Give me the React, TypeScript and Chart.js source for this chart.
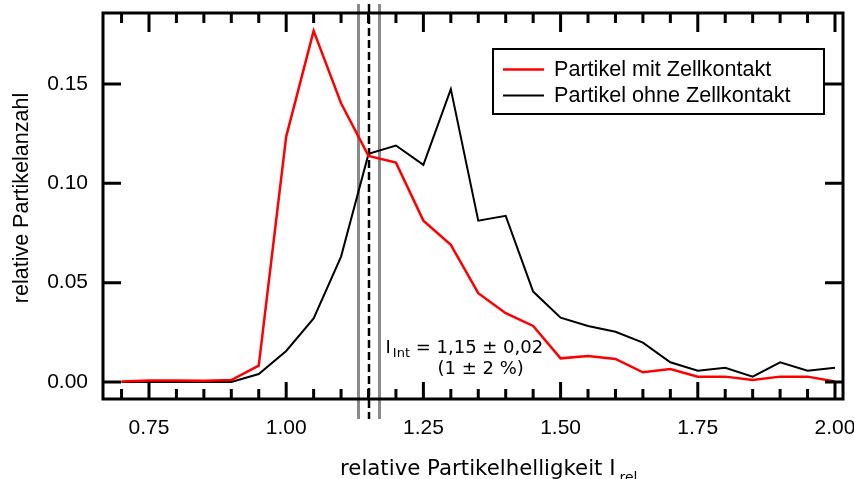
import React, { useEffect, useRef } from "react";
import { Chart, registerables } from "chart.js";

Chart.register(...registerables);

const xValues = [0.70, 0.75, 0.80, 0.85, 0.90, 0.95, 1.00, 1.05, 1.10, 1.15, 1.20, 1.25, 1.30, 1.35, 1.40, 1.45, 1.50, 1.55, 1.60, 1.65, 1.70, 1.75, 1.80, 1.85, 1.90, 1.95, 2.00];
const mitZellkontakt = [0.0003, 0.0008, 0.0008, 0.0006, 0.001, 0.0082, 0.1235, 0.1767, 0.1403, 0.1138, 0.1104, 0.0812, 0.069, 0.0447, 0.0346, 0.0282, 0.0119, 0.0131, 0.0116, 0.0049, 0.0065, 0.0027, 0.0027, 0.001, 0.0027, 0.0027, 0.0002];
const ohneZellkontakt = [0, 0, 0, 0, 0, 0.004, 0.0156, 0.032, 0.0631, 0.1148, 0.119, 0.1093, 0.1474, 0.0812, 0.0836, 0.0455, 0.0324, 0.0282, 0.0253, 0.0198, 0.0099, 0.0057, 0.0072, 0.0027, 0.0099, 0.0057, 0.0072];
const seriesLabels = ["Partikel mit Zellkontakt", "Partikel ohne Zellkontakt"];

const xTickValues = [0.75, 1.0, 1.25, 1.5, 1.75, 2.0];
const xTickLabels = ["0.75", "1.00", "1.25", "1.50", "1.75", "2.00"];
const yTickValues = [0.0, 0.05, 0.10, 0.15];
const yTickLabels = ["0.00", "0.05", "0.10", "0.15"];

const intensityMean = 1.15;
const intensityLow = 1.13;
const intensityHigh = 1.17;

const xMin = 0.6662;
const xMax = 2.0146;
const yMin = -0.00856;
const yMax = 0.1857;

const SANS = "'Liberation Sans', Arial, sans-serif";
const DEJAVU = "'DejaVu Sans', sans-serif";

const near = (a: number, b: number) => Math.abs(a - b) < 1e-6;

const zeroPad = (s: any) => {
  s.paddingTop = 0;
  s.paddingBottom = 0;
  s.paddingLeft = 0;
  s.paddingRight = 0;
};

const decorPlugin = {
  id: "decor",
  beforeDatasetsDraw(chart: any) {
    const ctx = chart.ctx;
    const xs = chart.scales.x;
    ctx.save();
    ctx.lineCap = "butt";
    ctx.strokeStyle = "#8a8a8a";
    ctx.lineWidth = 3;
    [intensityLow, intensityHigh].forEach((v) => {
      const px = Math.round(xs.getPixelForValue(v)) + 0.5;
      ctx.beginPath();
      ctx.moveTo(px, 4);
      ctx.lineTo(px, 419);
      ctx.stroke();
    });
    const pm = Math.round(xs.getPixelForValue(intensityMean));
    ctx.strokeStyle = "#000";
    ctx.lineWidth = 2.5;
    ctx.setLineDash([8, 4]);
    ctx.beginPath();
    ctx.moveTo(pm, 4);
    ctx.lineTo(pm, 419);
    ctx.stroke();
    ctx.restore();
  },
  afterDraw(chart: any) {
    const ctx = chart.ctx;
    const { left, right, top, bottom } = chart.chartArea;
    const xs = chart.scales.x;
    const ys = chart.scales.y;
    ctx.save();
    ctx.strokeStyle = "#000";
    ctx.lineWidth = 3;
    ctx.lineCap = "butt";
    ctx.setLineDash([]);
    // frame
    ctx.strokeRect(left, top, right - left, bottom - top);
    // x ticks (top & bottom, inward)
    xs.ticks.forEach((t: any) => {
      const px = xs.getPixelForValue(t.value);
      const major = xTickValues.some((v) => near(v, t.value));
      const lenB = major ? 17 : 10;
      const lenT = major ? 19 : 10;
      ctx.beginPath();
      ctx.moveTo(px, bottom);
      ctx.lineTo(px, bottom - lenB);
      ctx.moveTo(px, top);
      ctx.lineTo(px, top + lenT);
      ctx.stroke();
    });
    // y ticks (left & right, inward)
    yTickValues.forEach((v) => {
      const py = ys.getPixelForValue(v);
      ctx.beginPath();
      ctx.moveTo(left, py);
      ctx.lineTo(left + 18, py);
      ctx.moveTo(right, py);
      ctx.lineTo(right - 18, py);
      ctx.stroke();
    });

    // legend
    const lx = 493, ly = 49, lw = 331, lh = 65;
    ctx.fillStyle = "#fff";
    ctx.fillRect(lx, ly, lw, lh);
    ctx.lineWidth = 2;
    ctx.strokeStyle = "#000";
    ctx.strokeRect(lx, ly, lw, lh);
    const rows = [69.5, 95.5];
    chart.data.datasets.forEach((ds: any, i: number) => {
      ctx.strokeStyle = ds.borderColor;
      ctx.lineWidth = ds.borderWidth;
      ctx.beginPath();
      ctx.moveTo(503, rows[i]);
      ctx.lineTo(544, rows[i]);
      ctx.stroke();
      ctx.fillStyle = "#000";
      ctx.font = `21.6px ${SANS}`;
      ctx.textBaseline = "middle";
      ctx.textAlign = "left";
      ctx.fillText(ds.label, 554, rows[i] + 1);
    });

    // y axis title
    ctx.save();
    ctx.translate(22, 198);
    ctx.rotate(-Math.PI / 2);
    ctx.font = `21.5px ${SANS}`;
    ctx.textAlign = "center";
    ctx.textBaseline = "middle";
    ctx.fillStyle = "#000";
    ctx.fillText("relative Partikelanzahl", 0, 0);
    ctx.restore();

    // x axis title with subscript
    ctx.fillStyle = "#000";
    ctx.textAlign = "left";
    ctx.textBaseline = "alphabetic";
    ctx.font = `21.3px ${DEJAVU}`;
    const main = "relative Partikelhelligkeit I";
    ctx.fillText(main, 340, 475);
    const mw = ctx.measureText(main).width;
    ctx.font = `14px ${DEJAVU}`;
    ctx.fillText("rel", 340 + mw + 4, 482);

    // annotation
    const ax = xs.getPixelForValue(intensityMean) + 17;
    ctx.font = `18px ${DEJAVU}`;
    ctx.fillText("I", ax, 353);
    let cx = ax + ctx.measureText("I").width + 2;
    ctx.font = `13px ${DEJAVU}`;
    ctx.fillText("Int", cx, 357);
    cx += ctx.measureText("Int").width;
    ctx.font = `18px ${DEJAVU}`;
    ctx.fillText(" = 1,15 \u00b1 0,02", cx, 353);
    ctx.fillText("(1 \u00b1 2 %)", ax + 52, 374);
    ctx.restore();
  },
};

export default function App() {
  const ref = useRef<HTMLCanvasElement | null>(null);
  useEffect(() => {
    if (!ref.current) return;
    const chart = new Chart(ref.current, {
      type: "line",
      data: {
        datasets: [
          {
            label: seriesLabels[0],
            data: xValues.map((x, i) => ({ x, y: mitZellkontakt[i] })),
            borderColor: "#ff0000",
            borderWidth: 2.5,
            pointRadius: 0,
            tension: 0,
            fill: false,
          },
          {
            label: seriesLabels[1],
            data: xValues.map((x, i) => ({ x, y: ohneZellkontakt[i] })),
            borderColor: "#000000",
            borderWidth: 2,
            pointRadius: 0,
            tension: 0,
            fill: false,
          },
        ],
      },
      options: {
        animation: false,
        responsive: false,
        maintainAspectRatio: false,
        layout: { padding: { left: 0, top: 13, right: 11, bottom: 0 } },
        plugins: { legend: { display: false }, tooltip: { enabled: false } },
        scales: {
          x: {
            type: "linear",
            min: xMin,
            max: xMax,
            grid: { display: false, drawTicks: false },
            border: { display: false },
            afterFit: (s: any) => {
              s.height = 80;
              zeroPad(s);
            },
            ticks: {
              stepSize: 0.05,
              includeBounds: false,
              autoSkip: false,
              maxRotation: 0,
              minRotation: 0,
              padding: 17,
              color: "#000",
              font: { family: SANS, size: 21 },
              callback: (v: any) => {
                const i = xTickValues.findIndex((t) => near(t, Number(v)));
                return i >= 0 ? xTickLabels[i] : "";
              },
            },
          },
          y: {
            type: "linear",
            min: yMin,
            max: yMax,
            grid: { display: false, drawTicks: false },
            border: { display: false },
            afterFit: (s: any) => {
              s.width = 103;
              zeroPad(s);
            },
            ticks: {
              stepSize: 0.05,
              includeBounds: false,
              padding: 15,
              color: "#000",
              font: { family: SANS, size: 21 },
              callback: (v: any) => {
                const i = yTickValues.findIndex((t) => near(t, Number(v)));
                return i >= 0 ? yTickLabels[i] : "";
              },
            },
          },
        },
      },
      plugins: [decorPlugin],
    });
    return () => chart.destroy();
  }, []);
  return (
    <div style={{ position: "absolute", left: 0, top: 0, width: 854, height: 479, background: "#fff" }}>
      <canvas ref={ref} width={854} height={479} style={{ display: "block" }} />
    </div>
  );
}
